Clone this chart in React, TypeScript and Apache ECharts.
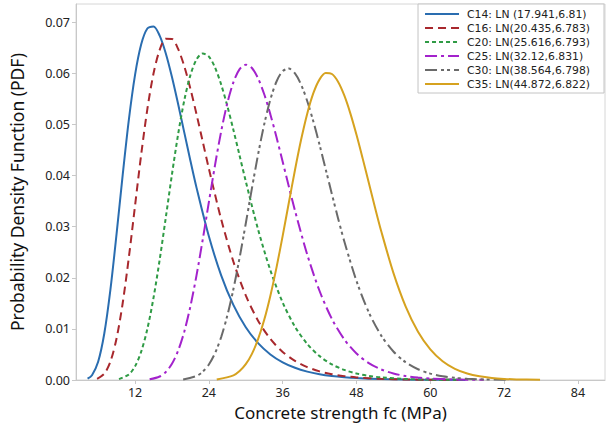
import React, { useEffect, useRef } from "react";
import * as echarts from "echarts";

const seriesNames = [
  "C14: LN (17.941,6.81)",
  "C16: LN(20.435,6.783)",
  "C20: LN(25.616,6.793)",
  "C25: LN(32.12,6.831)",
  "C30: LN(38.564,6.798)",
  "C35: LN(44.872,6.822)",
];

const xTicks = [12, 24, 36, 48, 60, 72, 84];
const yTicks = [0, 0.01, 0.02, 0.03, 0.04, 0.05, 0.06, 0.07];

const c14X = [4.28, 5, 6, 7, 8, 9, 10, 11, 12, 13, 14, 15, 16, 17, 18, 19, 20, 21, 22, 24, 26, 28, 30, 32, 34, 36, 38, 40, 42, 44, 46, 48, 52, 56, 60, 65.7];
const c14Y = [0.000252, 0.000942, 0.003573, 0.009106, 0.017744, 0.028633, 0.040258, 0.051032, 0.059742, 0.065716, 0.068795, 0.069208, 0.067402, 0.063921, 0.059303, 0.054021, 0.048464, 0.042922, 0.037607, 0.028127, 0.020487, 0.014644, 0.010326, 0.007212, 0.005006, 0.00346, 0.002386, 0.001643, 0.001132, 0.000781, 0.000539, 0.000373, 0.00018, 0.0000878, 0.0000434, 0.0000164];

const c16X = [5.83, 7, 8, 9, 10, 11, 12, 13, 14, 15, 16, 17, 18, 19, 20, 21, 22, 23, 24, 26, 28, 30, 32, 34, 36, 38, 40, 42, 44, 46, 48, 52, 56, 60, 64.55];
const c16Y = [0.00021, 0.001226, 0.003622, 0.008176, 0.015125, 0.024086, 0.034143, 0.044146, 0.053026, 0.059989, 0.064607, 0.066801, 0.066752, 0.064815, 0.06142, 0.05701, 0.051985, 0.046685, 0.041379, 0.031467, 0.02312, 0.016553, 0.01162, 0.008037, 0.005498, 0.00373, 0.002515, 0.00169, 0.001132, 0.000757, 0.000506, 0.000226, 0.000102, 0.0000461, 0.0000189];

const c20X = [9.39, 11, 12, 13, 14, 15, 16, 17, 18, 19, 20, 21, 22, 23, 24, 25, 26, 27, 28, 29, 30, 32, 34, 36, 38, 40, 42, 44, 46, 48, 50, 52, 56, 60, 65.29];
const c20Y = [0.000161, 0.001097, 0.002686, 0.005553, 0.009996, 0.016075, 0.023522, 0.031809, 0.040237, 0.048082, 0.054715, 0.059684, 0.062764, 0.063924, 0.063307, 0.061169, 0.057832, 0.053635, 0.048899, 0.043908, 0.038897, 0.029473, 0.021477, 0.015167, 0.010441, 0.007043, 0.00467, 0.003056, 0.001978, 0.001269, 0.000809, 0.000512, 0.000203, 0.0000801, 0.0000232];

const c25X = [14.37, 16, 17, 18, 19, 20, 21, 22, 23, 24, 25, 26, 27, 28, 29, 30, 31, 32, 33, 34, 35, 36, 37, 38, 40, 42, 44, 46, 48, 50, 52, 54, 56, 58, 60, 64, 68.7];
const c25Y = [0.000131, 0.00069, 0.00157, 0.003162, 0.005725, 0.009456, 0.014426, 0.02053, 0.027472, 0.034818, 0.042057, 0.048667, 0.054195, 0.058315, 0.060838, 0.061723, 0.061065, 0.059051, 0.055932, 0.05199, 0.047503, 0.042729, 0.03789, 0.033161, 0.024527, 0.01742, 0.011957, 0.007974, 0.005187, 0.003305, 0.002069, 0.001275, 0.000776, 0.000467, 0.000279, 0.000097, 0.0000274];

const c30X = [19.82, 22, 23, 24, 25, 26, 27, 28, 29, 30, 31, 32, 33, 34, 35, 36, 37, 38, 39, 40, 41, 42, 43, 44, 45, 46, 48, 50, 52, 54, 56, 58, 60, 62, 64, 66, 68, 72.79];
const c30Y = [0.000114, 0.000795, 0.001628, 0.003042, 0.005243, 0.008398, 0.012609, 0.017848, 0.023957, 0.030642, 0.037512, 0.04413, 0.050054, 0.054913, 0.058432, 0.060456, 0.060956, 0.060016, 0.057808, 0.054564, 0.050545, 0.046017, 0.041226, 0.036385, 0.03167, 0.027211, 0.019394, 0.013257, 0.008739, 0.005579, 0.003466, 0.002101, 0.001247, 0.000726, 0.000416, 0.000235, 0.000131, 0.000031];

const c35X = [25.28, 28, 29, 30, 31, 32, 33, 34, 35, 36, 37, 38, 39, 40, 41, 42, 43, 44, 45, 46, 47, 48, 49, 50, 51, 52, 54, 56, 58, 60, 62, 64, 66, 68, 70, 72, 74, 77.84];
const c35Y = [0.000103, 0.000916, 0.001746, 0.003092, 0.005123, 0.007986, 0.011777, 0.0165, 0.022051, 0.028221, 0.034699, 0.04111, 0.04706, 0.052188, 0.056186, 0.05885, 0.06008, 0.05989, 0.058384, 0.055744, 0.052196, 0.047993, 0.043382, 0.038591, 0.033815, 0.029218, 0.020979, 0.014373, 0.009447, 0.005982, 0.003667, 0.002182, 0.001265, 0.000717, 0.000398, 0.000217, 0.000116, 0.0000336];

const xs = [c14X, c16X, c20X, c25X, c30X, c35X];
const ys = [c14Y, c16Y, c20Y, c25Y, c30Y, c35Y];
const colors = ["#2a6db0", "#a8282d", "#2f9b45", "#a322cc", "#6a6a6a", "#d6a21f"];
const dashes: any[] = ["solid", [8, 5], [4, 3], [12, 4, 3, 4], [12, 4, 3, 3, 3, 4], "solid"];

const FONT = "Noto Sans";

export default function App() {
  const ref = useRef<HTMLDivElement>(null);
  useEffect(() => {
    if (!ref.current) return;
    const chart = echarts.init(ref.current, null, { renderer: "svg" });
    const series = seriesNames.map((name, i) => ({
      name,
      type: "line",
      data: xs[i].map((x, j) => [x, ys[i][j]]),
      showSymbol: false,
      symbol: "none",
      smooth: 0.3,
      lineStyle: { color: colors[i], width: 2, type: dashes[i] },
      itemStyle: { color: colors[i] },
      z: 2,
    }));
    chart.setOption({
      animation: false,
      backgroundColor: "#ffffff",
      grid: {
        left: 73,
        right: 4,
        top: 4,
        bottom: 48,
        show: true,
        borderColor: "#d6d6d6",
        borderWidth: 1,
        containLabel: false,
      },
      legend: {
        orient: "vertical",
        right: 5,
        top: 4,
        backgroundColor: "#ffffff",
        borderColor: "#c4c4c4",
        borderWidth: 1,
        borderRadius: 0,
        padding: [4, 14, 3, 6],
        itemWidth: 34,
        itemHeight: 12,
        itemGap: 2,
        itemStyle: { opacity: 0 },
        textStyle: { fontFamily: "DejaVu Sans", fontSize: 10.8, lineHeight: 12, color: "#222", padding: [0, 0, 0, 3] },
        data: seriesNames,
      },
      xAxis: {
        type: "value",
        min: 2.4,
        max: 88.4,
        name: "Concrete strength fc (MPa)",
        nameLocation: "middle",
        nameGap: 24,
        nameTextStyle: { fontFamily: FONT, fontSize: 17, color: "#111" },
        axisLine: { show: true, lineStyle: { color: "#c8c8c8" } },
        axisTick: { show: true, length: 4, lineStyle: { color: "#c8c8c8" }, customValues: xTicks },
        axisLabel: {
          customValues: xTicks,
          fontFamily: FONT,
          fontSize: 12.5,
          color: "#222",
          margin: 6,
        },
        splitLine: { show: false },
      },
      yAxis: {
        type: "value",
        min: 0,
        max: 0.0736,
        name: "Probability Density Function (PDF)",
        nameLocation: "middle",
        nameGap: 50,
        nameTextStyle: { fontFamily: FONT, fontSize: 17.5, color: "#111" },
        axisLine: { show: true, lineStyle: { color: "#c8c8c8" } },
        axisTick: { show: true, length: 4, lineStyle: { color: "#c8c8c8" }, customValues: yTicks },
        axisLabel: {
          customValues: yTicks,
          formatter: (v: number) => v.toFixed(2),
          fontFamily: FONT,
          fontSize: 12.5,
          color: "#222",
          margin: 6,
        },
        splitLine: { show: false },
      },
      series,
    });
    return () => chart.dispose();
  }, []);
  return <div ref={ref} style={{ width: 609, height: 428, position: "absolute", left: 0, top: 0 }} />;
}
